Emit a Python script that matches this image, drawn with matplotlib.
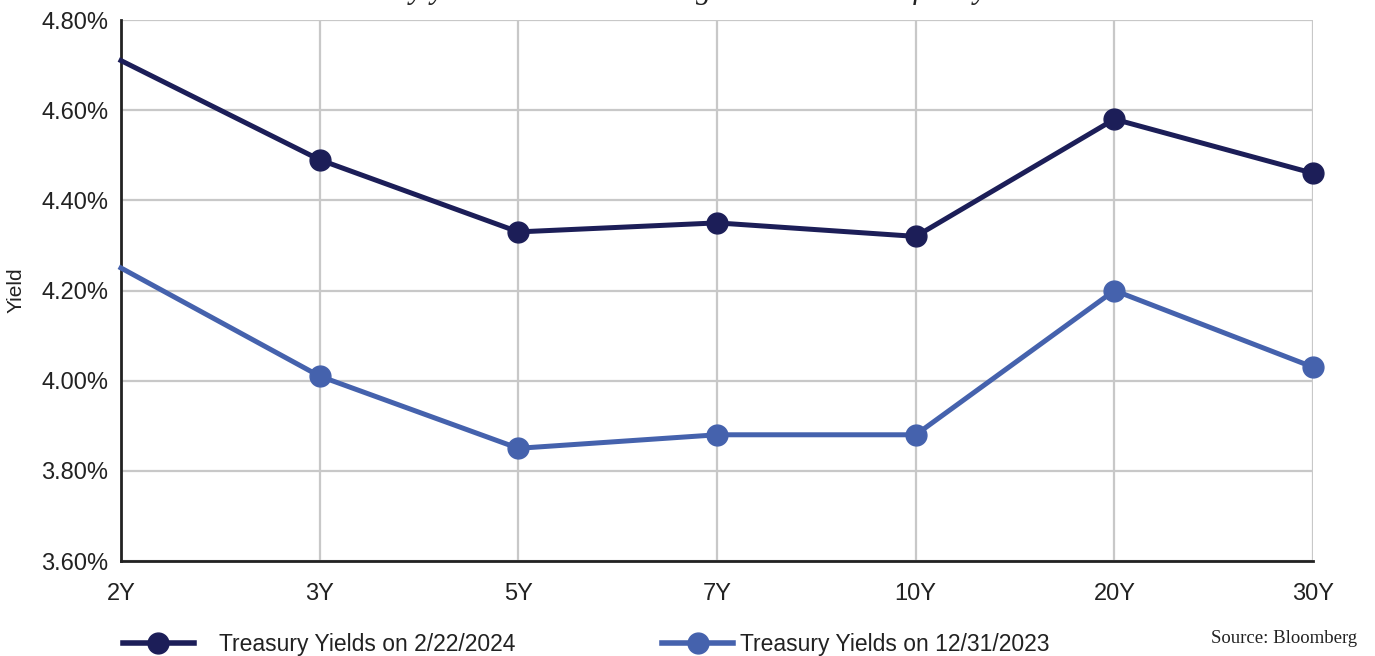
import matplotlib.pyplot as plt
from matplotlib.lines import Line2D
from matplotlib.ticker import FuncFormatter

# Treasury curve, yields in percent
tenors = ['2Y', '3Y', '5Y', '7Y', '10Y', '20Y', '30Y']
yields_feb = [4.71, 4.49, 4.33, 4.35, 4.32, 4.58, 4.46]
yields_dec = [4.25, 4.01, 3.85, 3.88, 3.88, 4.20, 4.03]
label_feb = 'Treasury Yields on 2/22/2024'
label_dec = 'Treasury Yields on 12/31/2023'

navy = '#1c1e58'
blue = '#4562ad'

plt.rcParams['font.family'] = ['Liberation Sans', 'DejaVu Sans']

fig = plt.figure(figsize=(13.75, 6.56), dpi=100)
ax = fig.add_axes([0.088, 0.1448, 0.867, 0.8247])

x = range(len(tenors))
# first point sits on the axis, no dot there
ax.plot(x, yields_feb, color=navy, lw=3.6, marker='o', ms=15, markevery=slice(1, None),
        clip_on=False, zorder=4)
ax.plot(x, yields_dec, color=blue, lw=3.6, marker='o', ms=15, markevery=slice(1, None),
        clip_on=False, zorder=4)

ax.set_xlim(0, len(tenors) - 1)
ax.set_ylim(3.6, 4.8)
ax.set_xticks(list(x))
ax.set_xticklabels(tenors)
ax.set_yticks([3.6, 3.8, 4.0, 4.2, 4.4, 4.6, 4.8])
ax.yaxis.set_major_formatter(FuncFormatter(lambda v, p: f'{v:.2f}%'))
ax.tick_params(length=0, labelsize=17, colors='#222222', pad=9)
ax.tick_params(axis='x', pad=16)
ax.grid(True, color='#c8c8c8', lw=1.6)
ax.set_axisbelow(True)
for side in ['top', 'right']:
    ax.spines[side].set_visible(False)
for side in ['left', 'bottom']:
    ax.spines[side].set_color('#222222')
    ax.spines[side].set_linewidth(2)
ax.set_ylabel('Yield', fontsize=15, color='#222222')
ax.yaxis.set_label_coords(-0.0797, 0.5)

# title sits mostly above the canvas
fig.text(0.489, 1.003, 'Treasury yields have been rising since the start of the year',
         family='Liberation Serif', style='italic', fontsize=22, ha='center',
         va='baseline', color='#222222')

# legend along the bottom edge
h_feb = Line2D([], [], color=navy, lw=4, marker='o', ms=15)
h_dec = Line2D([], [], color=blue, lw=4, marker='o', ms=15)
leg_font = {'family': ['Liberation Sans'], 'size': 16.5}
leg1 = fig.legend([h_feb], [label_feb], loc='center left', bbox_to_anchor=(0.0744, 0.018),
                  frameon=False, handlelength=3.1, handletextpad=1.1, prop=leg_font)
leg2 = fig.legend([h_dec], [label_dec], loc='center left', bbox_to_anchor=(0.4666, 0.018),
                  frameon=False, handlelength=3.1, handletextpad=0.3, prop=leg_font)
for leg in (leg1, leg2):
    for t in leg.get_texts():
        t.set_color('#222222')

fig.text(0.987, 0.027, 'Source: Bloomberg', family='Liberation Serif', fontsize=13.5,
         ha='right', va='center', color='#222222')

fig.savefig('out.png', dpi=100)
